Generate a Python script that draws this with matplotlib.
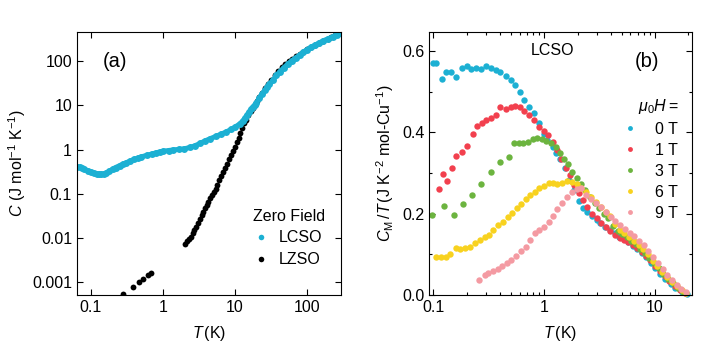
import numpy as np
import matplotlib
matplotlib.use("Agg")
import matplotlib.pyplot as plt
from matplotlib.ticker import FixedLocator, LogLocator, MultipleLocator, NullLocator, FixedFormatter

plt.rcParams['font.family'] = ['Liberation Sans', 'DejaVu Sans']
plt.rcParams['mathtext.fontset'] = 'custom'
plt.rcParams['mathtext.rm'] = 'Liberation Sans'
plt.rcParams['mathtext.it'] = 'Liberation Sans:italic'
plt.rcParams['font.size'] = 11.5

# ---- panel (a): zero-field heat capacity ----
T_lcso = [0.065, 0.07, 0.075, 0.08, 0.09, 0.1, 0.11, 0.12, 0.13, 0.14, 0.15, 0.16, 0.18, 0.2,
          0.22, 0.25, 0.28, 0.31, 0.35, 0.4, 0.45, 0.5, 0.6, 0.7, 0.8, 0.9, 1.0, 1.2, 1.4, 1.7,
          2.0, 2.4, 2.8, 3.3, 3.8, 4.5, 5.5, 6.5, 7.6, 9, 10, 11.7, 13, 14, 15, 16, 17, 18, 19,
          20, 22, 24, 26, 28, 30, 34, 38, 42, 48, 55, 62, 70, 80, 90, 100, 115, 130, 150, 170,
          200, 230, 260, 300]
C_lcso = [0.41, 0.40, 0.38, 0.36, 0.33, 0.31, 0.29, 0.28, 0.275, 0.275, 0.28, 0.29, 0.32, 0.36,
          0.39, 0.43, 0.47, 0.50, 0.55, 0.60, 0.64, 0.68, 0.74, 0.79, 0.84, 0.88, 0.91, 0.95, 0.98, 1.01,
          1.04, 1.12, 1.22, 1.38, 1.55, 1.75, 2.0, 2.25, 2.5, 2.9, 3.2, 3.8, 4.5, 5.3, 6.2, 7.2, 8.3, 9.3, 10.3,
          11.5, 15, 18.5, 22, 26, 30, 38, 48, 58, 72, 88, 104, 120, 140, 162, 185, 210, 235, 265, 295,
          330, 365, 405, 450]

T_lzso_low = [0.278, 0.38, 0.47, 0.53, 0.62, 0.68]
C_lzso_low = [0.00053, 0.00076, 0.001, 0.00115, 0.0014, 0.0016]

T_lzso = [2.02, 2.15, 2.3, 2.45, 2.6, 2.75, 2.93, 3.1, 3.28, 3.45, 3.65, 3.85, 4.05, 4.3, 4.55,
          4.8, 5.1, 5.4, 5.75, 6.1, 6.5, 6.9, 7.3, 7.8, 8.3, 8.8, 9.4, 10, 10.6, 11.3, 12, 12.8,
          13.6, 14.5, 15.5, 16.6, 17.8, 19, 20.5, 22, 24, 26.5, 29, 32, 36, 40, 45, 50, 56, 63,
          71, 80, 90, 100, 115, 130, 150, 170, 195, 220, 250, 280]
C_lzso = [0.0073, 0.0082, 0.0095, 0.0105, 0.0125, 0.0145, 0.017, 0.021, 0.027, 0.032, 0.038,
          0.046, 0.054, 0.065, 0.078, 0.092, 0.11, 0.13, 0.16, 0.2, 0.25, 0.31, 0.38, 0.48, 0.6,
          0.75, 0.93, 1.15, 1.45, 1.85, 2.4, 3.1, 3.9, 4.8, 6.0, 7.5, 9.0, 10.5, 12.8, 15.5, 19.5,
          24.5, 30, 38, 50, 62, 76, 88, 102, 116, 132, 148, 168, 188, 214, 238, 268, 298, 330,
          360, 400, 435]

# ---- panel (b): C_M/T of LCSO in field ----
T_0T = [0.1, 0.105, 0.119, 0.131, 0.145, 0.162, 0.18, 0.2, 0.22, 0.243, 0.27, 0.3, 0.33, 0.365,
        0.40, 0.45, 0.5, 0.55, 0.61, 0.665, 0.735, 0.815, 0.89, 0.99, 1.07, 1.19, 1.29, 1.4, 1.53,
        1.69, 1.87, 2.07, 2.26, 2.46, 2.69, 2.97, 3.22, 3.57, 3.9, 4.32, 4.73, 5.2, 5.69, 6.3, 6.84,
        7.56, 8.27, 9.14, 10.0, 11.2, 12.4, 13.8, 15.3, 17.5, 19.4]
C_0T = [0.57, 0.57, 0.531, 0.549, 0.549, 0.537, 0.557, 0.564, 0.556, 0.557, 0.555, 0.563, 0.557,
        0.553, 0.549, 0.539, 0.529, 0.516, 0.498, 0.48, 0.463, 0.447, 0.422, 0.396, 0.381, 0.365,
        0.35, 0.334, 0.311, 0.283, 0.258, 0.232, 0.214, 0.203, 0.194, 0.184, 0.176, 0.168, 0.16,
        0.152, 0.143, 0.137, 0.13, 0.121, 0.112, 0.102, 0.092, 0.079, 0.067, 0.052, 0.039, 0.027,
        0.016, 0.007, 0.002]

T_1T = [0.113, 0.123, 0.134, 0.148, 0.162, 0.18, 0.2, 0.227, 0.247, 0.274, 0.30, 0.332, 0.365,
        0.404, 0.45, 0.5, 0.55, 0.61, 0.665, 0.735, 0.815, 0.9, 0.99, 1.09, 1.2, 1.31, 1.43, 1.56,
        1.72, 1.87, 2.07, 2.26, 2.46, 2.69, 2.97, 3.29, 3.6, 3.96, 4.35, 4.8, 5.25, 5.75, 6.3, 6.9,
        7.6, 8.3, 9.1, 10, 11, 12.2, 13.5, 15, 16.8, 18.5]
C_1T = [0.26, 0.298, 0.28, 0.311, 0.342, 0.352, 0.366, 0.396, 0.416, 0.422, 0.429, 0.434, 0.443,
        0.461, 0.457, 0.461, 0.465, 0.461, 0.452, 0.443, 0.429, 0.414, 0.402, 0.393, 0.377, 0.357,
        0.334, 0.311, 0.295, 0.27, 0.25, 0.234, 0.216, 0.2, 0.189, 0.176, 0.166, 0.157, 0.148, 0.14,
        0.135, 0.13, 0.123, 0.115, 0.106, 0.096, 0.085, 0.072, 0.059, 0.046, 0.034, 0.022, 0.011,
        0.004]

T_3T = [0.098, 0.125, 0.153, 0.186, 0.223, 0.27, 0.33, 0.40, 0.48, 0.54, 0.59, 0.65, 0.72, 0.79,
        0.86, 0.95, 1.05, 1.15, 1.27, 1.39, 1.5, 1.63, 1.78, 1.98, 2.16, 2.36, 2.6, 2.85, 3.15,
        3.45, 3.8, 4.2, 4.6, 5.05, 5.55, 6.1, 6.7, 7.35, 8.1, 8.9, 9.8, 10.8, 11.9, 13.1, 14.5,
        16, 17.7]
C_3T = [0.197, 0.219, 0.197, 0.223, 0.246, 0.272, 0.303, 0.328, 0.34, 0.373, 0.373, 0.373, 0.377,
        0.383, 0.387, 0.383, 0.379, 0.373, 0.365, 0.348, 0.334, 0.321, 0.303, 0.287, 0.272, 0.258,
        0.242, 0.227, 0.213, 0.2, 0.19, 0.17, 0.158, 0.15, 0.142, 0.133, 0.124, 0.113, 0.102,
        0.091, 0.078, 0.065, 0.052, 0.04, 0.028, 0.017, 0.008]

T_6T = [0.105, 0.117, 0.13, 0.141, 0.159, 0.176, 0.195, 0.216, 0.24, 0.262, 0.29, 0.318, 0.348,
        0.385, 0.427, 0.473, 0.517, 0.568, 0.62, 0.687, 0.75, 0.83, 0.9, 1.0, 1.1, 1.21, 1.31,
        1.45, 1.61, 1.78, 1.98, 2.16, 2.4, 2.65, 2.95, 3.25, 3.6, 3.95, 4.35, 4.8, 5.3, 5.8, 6.4,
        7.1, 7.8, 8.6, 9.5, 10.5, 11.6, 12.8, 14.2, 15.7, 17.4, 19.2]
C_6T = [0.092, 0.092, 0.093, 0.101, 0.116, 0.112, 0.115, 0.119, 0.127, 0.134, 0.143, 0.148, 0.16,
        0.172, 0.18, 0.191, 0.202, 0.213, 0.224, 0.235, 0.246, 0.254, 0.262, 0.268, 0.275, 0.276,
        0.273, 0.276, 0.279, 0.277, 0.273, 0.264, 0.252, 0.24, 0.228, 0.216, 0.204, 0.193, 0.175,
        0.16, 0.151, 0.143, 0.133, 0.123, 0.112, 0.1, 0.084, 0.07, 0.056, 0.044, 0.032, 0.021, 0.012,
        0.004]

T_9T = [0.256, 0.29, 0.314, 0.348, 0.385, 0.42, 0.467, 0.506, 0.56, 0.62, 0.68, 0.75, 0.83, 0.9,
        1.0, 1.1, 1.21, 1.31, 1.45, 1.61, 1.78, 1.98, 2.16, 2.4, 2.65, 2.95, 3.25, 3.6, 4.0, 4.4,
        4.85, 5.35, 5.9, 6.5, 7.2, 7.9, 8.7, 9.6, 10.6, 11.7, 12.9, 14.2, 15.7, 17.3, 19.1]
C_9T = [0.037, 0.05, 0.055, 0.059, 0.063, 0.07, 0.078, 0.086, 0.096, 0.107, 0.119, 0.135, 0.152,
        0.16, 0.168, 0.18, 0.193, 0.211, 0.225, 0.242, 0.254, 0.26, 0.264, 0.245, 0.235, 0.225,
        0.215, 0.205, 0.192, 0.182, 0.172, 0.163, 0.153, 0.144, 0.133, 0.122, 0.108, 0.093, 0.078,
        0.063, 0.048, 0.037, 0.025, 0.015, 0.006]

fields = ['0 T', '1 T', '3 T', '6 T', '9 T']
colors = ['#1cb0d3', '#f2404e', '#6cb43f', '#f8d21f', '#f49aa2']
cyan = '#1cb0d3'

fig = plt.figure(figsize=(7.06, 3.54), dpi=100)
ax1 = fig.add_axes([0.109, 0.167, 0.374, 0.743])
ax2 = fig.add_axes([0.608, 0.167, 0.372, 0.743])

for ax in (ax1, ax2):
    ax.tick_params(which='both', direction='in', top=True, right=True, width=0.8, labelsize=11.5)
    ax.tick_params(which='major', length=4.5)
    ax.tick_params(which='minor', length=2.2)
    for s in ax.spines.values():
        s.set_linewidth(0.8)

# panel (a)
ax1.plot(T_lzso_low, C_lzso_low, 'o', color='black', ms=4.2, mew=0)
ax1.plot(T_lzso, C_lzso, 'o', color='black', ms=4.2, mew=0)
ax1.plot(T_lcso, C_lcso, 'o-', color=cyan, ms=5, mew=0, lw=3.6)
ax1.set_xscale('log')
ax1.set_yscale('log')
ax1.set_xlim(0.064, 300)
ax1.set_ylim(0.0005, 470)
ax1.xaxis.set_major_locator(FixedLocator([0.1, 1, 10, 100]))
ax1.xaxis.set_major_formatter(FixedFormatter(['0.1', '1', '10', '100']))
ax1.xaxis.set_minor_locator(NullLocator())
ax1.yaxis.set_major_locator(FixedLocator([0.001, 0.01, 0.1, 1, 10, 100]))
ax1.yaxis.set_major_formatter(FixedFormatter(['0.001', '0.01', '0.1', '1', '10', '100']))
ax1.yaxis.set_minor_locator(NullLocator())
ax1.set_xlabel(r'$T\,$(K)', labelpad=7)
ax1.set_ylabel(r'$C$ (J mol$^{-1}$ K$^{-1}$)', labelpad=3)
ax1.text(0.144, 0.886, '(a)', transform=ax1.transAxes, fontsize=14.5, ha='center', va='center')

h1 = ax1.plot([], [], 'o', color=cyan, ms=4, mew=0, label='LCSO')[0]
h2 = ax1.plot([], [], 'o', color='black', ms=4, mew=0, label='LZSO')[0]
leg1 = ax1.legend(handles=[h1, h2], title='Zero Field', loc='upper left',
                  bbox_to_anchor=(0.625, 0.37), frameon=False, fontsize=11.5,
                  title_fontsize=11.5, handlelength=1.0, handletextpad=0.6,
                  labelspacing=0.42, borderpad=0.2)
leg1._legend_box.align = 'left'

# panel (b)
series_b = [(T_0T, C_0T), (T_1T, C_1T), (T_3T, C_3T), (T_6T, C_6T), (T_9T, C_9T)]
handles = []
for (T, C), c, lab in zip(series_b, colors, fields):
    ax2.plot(T, C, 'o', color=c, ms=4.6, mew=0, clip_on=False)
    handles.append(ax2.plot([], [], 'o', color=c, ms=3.5, mew=0, label=lab)[0])
ax2.set_xscale('log')
ax2.set_xlim(0.092, 21.5)
ax2.set_ylim(0, 0.647)
ax2.xaxis.set_major_locator(FixedLocator([0.1, 1, 10]))
ax2.xaxis.set_major_formatter(FixedFormatter(['0.1', '1', '10']))
ax2.xaxis.set_minor_locator(LogLocator(base=10, subs=np.arange(2, 10)))
ax2.xaxis.set_minor_formatter(FixedFormatter([]))
ax2.yaxis.set_major_locator(MultipleLocator(0.2))
ax2.yaxis.set_minor_locator(MultipleLocator(0.1))
ax2.yaxis.set_major_formatter(plt.FuncFormatter(lambda v, p: f'{v:.1f}'))
ax2.set_xlabel(r'$T\,$(K)', labelpad=7)
ax2.set_ylabel(r'$C_\mathrm{M}\,/T\,$(J K$^{-2}$ mol-Cu$^{-1}$)', labelpad=4)
ax2.text(0.468, 0.928, 'LCSO', transform=ax2.transAxes, fontsize=11.5, ha='center', va='center')
ax2.text(0.83, 0.886, '(b)', transform=ax2.transAxes, fontsize=14.5, ha='center', va='center')
leg2 = ax2.legend(handles=handles, title=r'$\mu_0H =$', loc='upper right',
                  bbox_to_anchor=(0.99, 0.795), frameon=False, fontsize=11.5,
                  title_fontsize=11.5, handlelength=1.0, handletextpad=1.1,
                  labelspacing=0.37, borderpad=0.2)
leg2._legend_box.align = 'right'

fig.savefig('out.png', dpi=100)
